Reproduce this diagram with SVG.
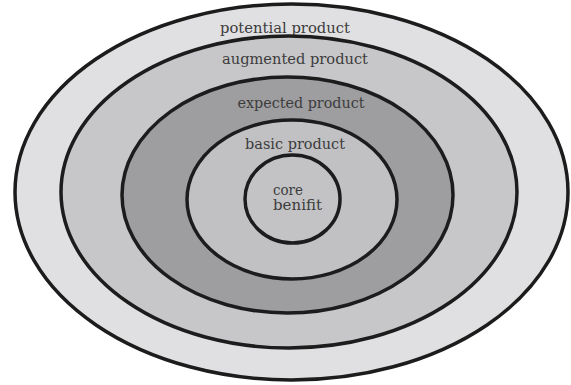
<svg xmlns="http://www.w3.org/2000/svg" width="571" height="385" viewBox="0 0 571 385">
<style>
.ring{stroke:#1c1c1c;stroke-width:3.5}
.lbl{font-family:"DejaVu Serif","Liberation Serif",serif;font-size:14px;fill:#3c3c3c;lengthAdjust:spacingAndGlyphs}
</style>
<rect width="571" height="385" fill="#ffffff"/>
<g id="potential-product">
<ellipse class="ring" cx="291.5" cy="192" rx="276.5" ry="188" fill="#e0e0e2"/>
<text class="lbl" x="285" y="33" text-anchor="middle" textLength="130" lengthAdjust="spacingAndGlyphs">potential product</text>
</g>
<g id="augmented-product">
<ellipse class="ring" cx="289" cy="192" rx="228" ry="156" fill="#c7c7c9"/>
<text class="lbl" x="295" y="64" text-anchor="middle" textLength="146" lengthAdjust="spacingAndGlyphs">augmented product</text>
</g>
<g id="expected-product">
<ellipse class="ring" cx="287.5" cy="195" rx="165.5" ry="118" fill="#9e9ea1"/>
<text class="lbl" x="301" y="108" text-anchor="middle" textLength="127" lengthAdjust="spacingAndGlyphs">expected product</text>
</g>
<g id="basic-product">
<ellipse class="ring" cx="292" cy="199.5" rx="105" ry="79.5" fill="#c1c1c4"/>
<text class="lbl" x="295" y="149" text-anchor="middle" textLength="100" lengthAdjust="spacingAndGlyphs">basic product</text>
</g>
<g id="core-benifit">
<ellipse class="ring" cx="292.5" cy="199" rx="47.5" ry="44" fill="#c3c3c5"/>
<text class="lbl" x="273" y="195" textLength="30" lengthAdjust="spacingAndGlyphs">core</text>
<text class="lbl" x="273" y="210" textLength="49" lengthAdjust="spacingAndGlyphs">benifit</text>
</g>
<g id="connectors"/>
</svg>
